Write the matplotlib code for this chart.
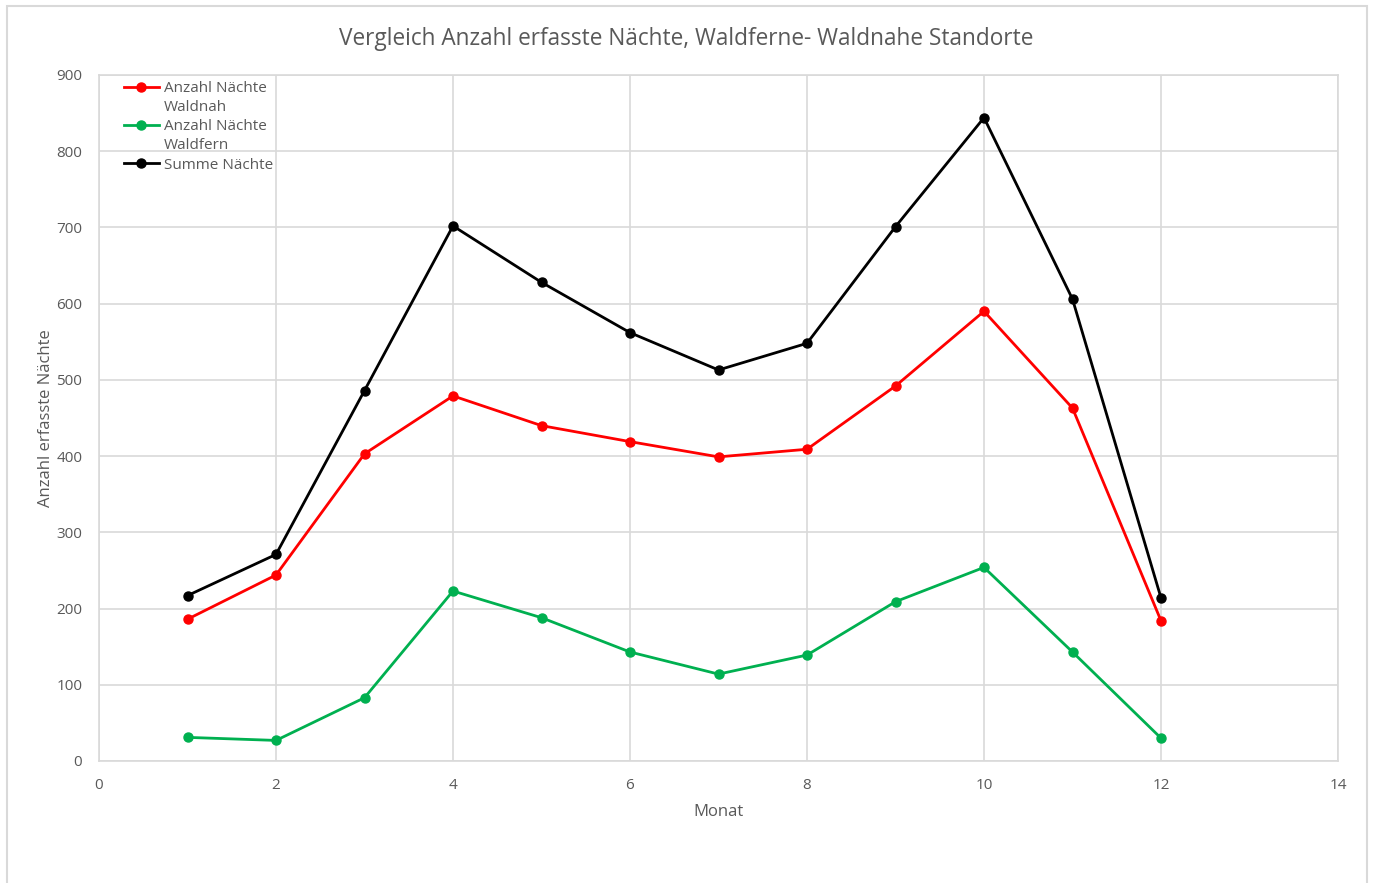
import numpy as np
from matplotlib import pyplot as plt
from matplotlib.patches import Rectangle

plt.rcParams['font.family'] = ['Open Sans', 'DejaVu Sans']

monat = [1, 2, 3, 4, 5, 6, 7, 8, 9, 10, 11, 12]
waldnah = [186, 244, 403, 479, 440, 419, 399, 409, 492, 590, 463, 184]
waldfern = [31, 27, 83, 223, 188, 143, 114, 139, 209, 254, 143, 30]
summe = [217, 271, 486, 702, 628, 562, 513, 548, 701, 844, 606, 214]

grau = '#595959'

fig = plt.figure(figsize=(13.73, 8.83), dpi=100)
# chart border like in Excel
fig.patches.append(Rectangle((7/1373, -0.05), 1360/1373, 1.05 - 6/883, transform=fig.transFigure,
                             fill=False, edgecolor='#d9d9d9', linewidth=1.5))
ax = fig.add_axes([99/1373, 1 - 761/883, 1239/1373, 686/883])

l1, = ax.plot(monat, waldnah, color='#ff0000', marker='o', ms=6.5, lw=2)
l2, = ax.plot(monat, waldfern, color='#00b050', marker='o', ms=6.5, lw=2)
l3, = ax.plot(monat, summe, color='#000000', marker='o', ms=6.5, lw=2)
leer, = ax.plot([], [], color='none')

ax.set_xlim(0, 14)
ax.set_ylim(0, 900)
ax.set_xticks(range(0, 15, 2))
ax.set_yticks(range(0, 901, 100))
ax.grid(color='#d9d9d9', lw=1.2)
ax.set_axisbelow(True)
for s in ax.spines.values():
    s.set_color('#d9d9d9')
    s.set_linewidth(1.2)
ax.tick_params(length=0, colors=grau, labelsize=11, pad=12)

ax.set_xlabel('Monat', color=grau, fontsize=12, labelpad=8)
ax.set_ylabel('Anzahl erfasste Nächte', color=grau, fontsize=12, labelpad=2)
fig.text(0.5, 1 - 39/883, 'Vergleich Anzahl erfasste Nächte, Waldferne- Waldnahe Standorte',
         ha='center', va='center', color=grau, fontsize=16.3)

# legend labels wrap onto a second line like in the original
leg = ax.legend([l1, leer, l2, leer, l3],
                ['Anzahl Nächte', 'Waldnah', 'Anzahl Nächte', 'Waldfern', 'Summe Nächte'],
                loc='upper left', bbox_to_anchor=(0.015, 1.0), frameon=False, fontsize=11,
                labelcolor=grau, handlelength=2.3, handletextpad=0.35, labelspacing=0.27,
                borderaxespad=0.0)

plt.savefig('out.png', dpi=100)
